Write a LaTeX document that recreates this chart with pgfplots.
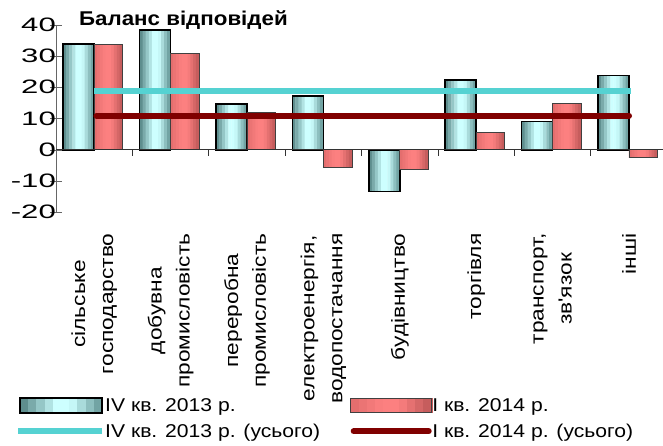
\documentclass[border=0pt]{standalone}
\usepackage{pgfplots}
\usepackage{pgfplotstable}
\pgfplotsset{compat=1.18}
\usepackage{fontspec}
\setmainfont{Liberation Sans}
\newfontfamily\tickfont[FakeStretch=1.6]{Liberation Sans}
\newfontfamily\legfont[FakeStretch=1.14]{Liberation Sans}
\newfontfamily\labfont[FakeStretch=1.2]{Liberation Sans}
\newfontfamily\titfont[FakeStretch=1.12]{Liberation Sans}
\definecolor{cy0}{RGB}{94,142,142}
\definecolor{cy1}{RGB}{122,170,170}
\definecolor{cy2}{RGB}{149,199,199}
\definecolor{cy3}{RGB}{177,227,227}
\definecolor{cy4}{RGB}{205,255,255}
\definecolor{cy5}{RGB}{205,255,255}
\definecolor{cy6}{RGB}{197,247,247}
\definecolor{cy7}{RGB}{169,219,219}
\definecolor{cy8}{RGB}{141,191,191}
\definecolor{cy9}{RGB}{114,164,164}
\definecolor{rd0}{RGB}{228,110,110}
\definecolor{rd1}{RGB}{235,116,116}
\definecolor{rd2}{RGB}{242,121,121}
\definecolor{rd3}{RGB}{249,126,126}
\definecolor{rd4}{RGB}{252,128,128}
\definecolor{rd5}{RGB}{252,128,128}
\definecolor{rd6}{RGB}{244,123,123}
\definecolor{rd7}{RGB}{229,113,113}
\definecolor{rd8}{RGB}{213,103,103}
\definecolor{rd9}{RGB}{198,93,93}
\definecolor{lnC}{RGB}{85,210,210}
\definecolor{lnR}{RGB}{128,0,0}
\pgfplotsset{
  cyleg/.style={legend image code/.code={%
    \foreach \c [count=\i from 0] in {cy0,cy1,cy2,cy3,cy4,cy5,cy6,cy7,cy8,cy9}
      {\fill[\c] (\i*8.2bp,-7.5bp) rectangle ++(8.6bp,15bp);}
    \draw[black, line width=1.6bp] (0bp,-7.5bp) rectangle (82bp,7.5bp);}},
  rdleg/.style={legend image code/.code={%
    \foreach \c [count=\i from 0] in {rd0,rd1,rd2,rd3,rd4,rd5,rd6,rd7,rd8,rd9}
      {\fill[\c] (\i*8.1bp,-7bp) rectangle ++(8.5bp,14bp);}
    \draw[black!75, line width=1bp] (0bp,-7bp) rectangle (81bp,7bp);}},
  lcleg/.style={legend image code/.code={\draw[##1] (-2bp,0bp) -- (82bp,0bp);}},
  lrleg/.style={legend image code/.code={\draw[##1] (3bp,0bp) -- (78bp,0bp);}},
}
\pgfplotstableread{
x a b
0 33.9 33.8
1 38.4 30.7
2 14.7 12.0
3 17.1 -5.8
4 -13.4 -6.4
5 22.4 5.6
6 9.0 14.7
7 23.7 -2.6
}\data
% one vertical strip of every bar of a series: #1 column, #2 shift, #3 colour
\newcommand\strip[3]{\addplot[ybar, bar width=0.045, bar shift=#2, fill=#3, draw=none, forget plot] table[x=x, y=#1] {\data};}
\begin{document}
\begin{tikzpicture}
\begin{axis}[name=ax, scale only axis, width=607bp, height=187.6bp,
  xmin=-0.5, xmax=7.445, ymin=-20, ymax=40,
  axis lines=left, axis line style={-},
  x axis line style={draw=none},
  y axis line style={black!60},
  tick align=center, major tick length=12bp,
  ytick={-20,-10,...,40},
  yticklabels={-20,-10,0,10,20,30,40},
  ytick style={black!60},
  yticklabel style={font=\tickfont\fontsize{19.5}{20}\selectfont, anchor=east, inner sep=0pt, xshift=6bp},
  xtick={0,...,7},
  major x tick style={draw=none},
  xticklabels={{сільське\\господарство},{добувна\\промисловість},{переробна\\промисловість},{електроенергія,\\водопостачання},{будівництво},{торгівля},{транспорт,\\зв'язок},{інші}},
  xticklabel style={yshift=-15bp, rotate=90, anchor=east, align=center, inner sep=0pt, font=\labfont\fontsize{19}{28}\selectfont},
  title={Баланс відповідей},
  title style={at={(axis description cs:0,1)}, anchor=base west, xshift=23bp, yshift=-6.5bp, inner sep=0pt, font=\titfont\bfseries\fontsize{20}{24}\selectfont},
  legend columns=2,
  legend style={at={(axis description cs:0,0)}, anchor=north west, xshift=-41bp, yshift=-184.7bp, draw=none, fill=none, inner sep=0pt, row sep=10bp, column sep=0bp, font=\legfont\fontsize{18.6}{22}\selectfont, nodes={inner sep=0pt}, cells={anchor=west}},
]
\addlegendimage{cyleg}
\addlegendentry{\makebox[245bp][l]{IV кв. 2013 р.}}
\addlegendimage{rdleg}
\addlegendentry{I кв. 2014 р.}
% IV kv. 2013 bars (from -0.405 to 0 around each category)
\strip{a}{-0.38475}{cy0}
\strip{a}{-0.34425}{cy1}
\strip{a}{-0.30375}{cy2}
\strip{a}{-0.26325}{cy3}
\strip{a}{-0.22275}{cy4}
\strip{a}{-0.18225}{cy5}
\strip{a}{-0.14175}{cy6}
\strip{a}{-0.10125}{cy7}
\strip{a}{-0.06075}{cy8}
\strip{a}{-0.02225}{cy9}
\addplot[ybar, bar width=0.405, bar shift=-0.2025, fill=none, draw=black, line width=1.6bp, forget plot] table[x=x, y=a] {\data};
% I kv. 2014 bars (from 0 to 0.375)
\strip{b}{0.02075}{rd0}
\strip{b}{0.05625}{rd1}
\strip{b}{0.09375}{rd2}
\strip{b}{0.13125}{rd3}
\strip{b}{0.16875}{rd4}
\strip{b}{0.20625}{rd5}
\strip{b}{0.24375}{rd6}
\strip{b}{0.28125}{rd7}
\strip{b}{0.31875}{rd8}
\strip{b}{0.35425}{rd9}
\addplot[ybar, bar width=0.375, bar shift=0.1875, fill=none, draw=black!75, line width=1bp, forget plot] table[x=x, y=b] {\data};
\addplot[sharp plot, no marks, lnC, line width=6bp, lcleg]
  coordinates {(0,18.9) (7.03,18.9)};
\addlegendentry{\makebox[245bp][l]{IV кв. 2013 р. (усього)}}
\addplot[sharp plot, no marks, lnR, line width=6bp, line cap=round, lrleg]
  coordinates {(0.03,10.9) (7,10.9)};
\addlegendentry{I кв. 2014 р. (усього)}
\draw[black!80, line width=0.8bp] (axis cs:-0.5,0) -- (axis cs:7.445,0);
\pgfplotsinvokeforeach{0.5,1.5,2.5,3.5,4.5,5.5,6.5}{\draw[black!80, line width=0.8bp] (axis cs:#1,0) -- ([yshift=-6bp]axis cs:#1,0);}
\end{axis}
\pgfresetboundingbox
\useasboundingbox ([xshift=-56bp,yshift=-233.7bp]ax.south west) rectangle ([yshift=24.7bp]ax.north east);
\end{tikzpicture}
\end{document}
